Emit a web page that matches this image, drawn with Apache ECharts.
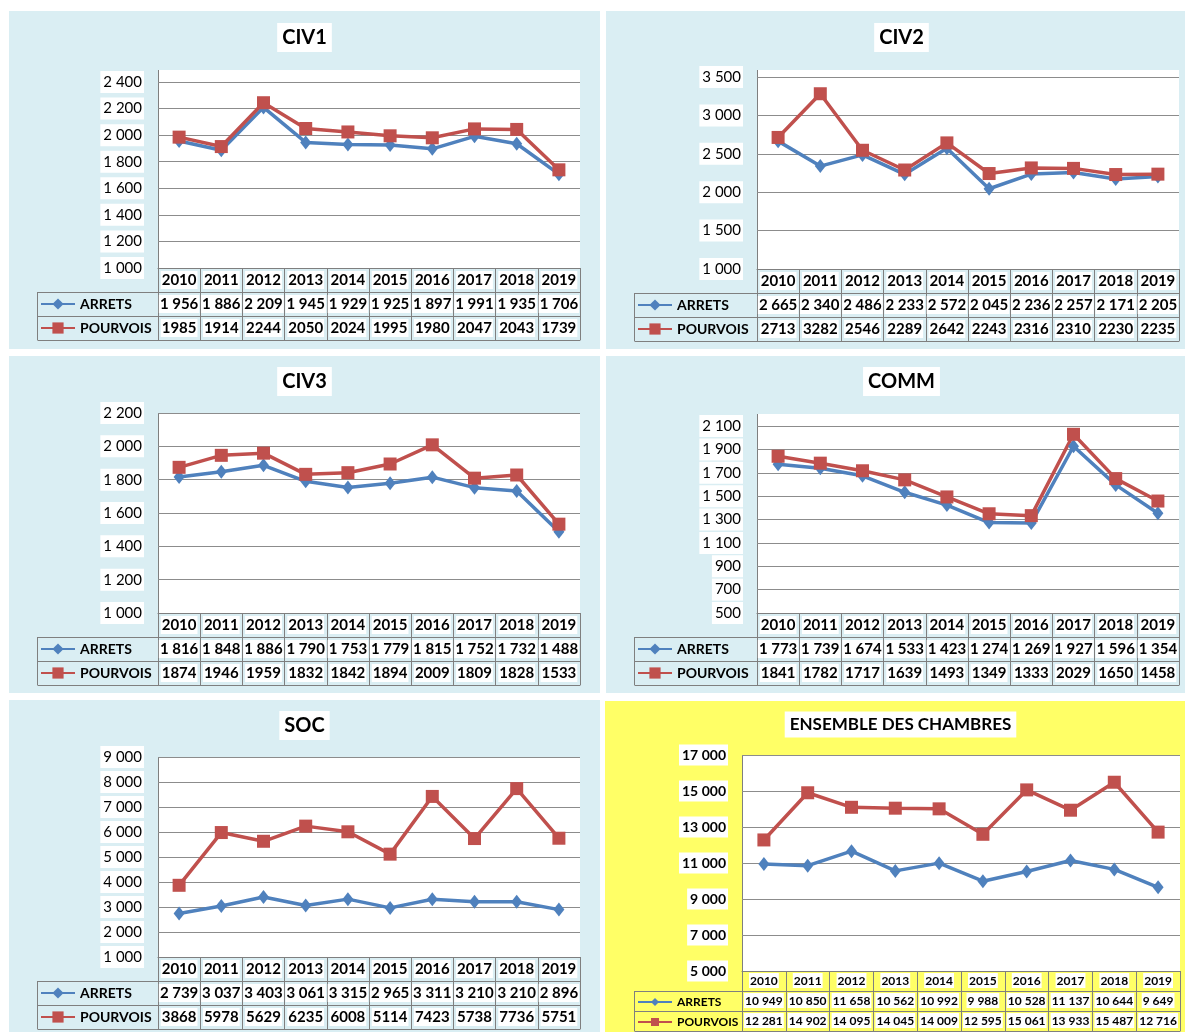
<!DOCTYPE html>
<html>
<head>
<meta charset="utf-8">
<script src="https://cdn.jsdelivr.net/npm/echarts@6/dist/echarts.min.js"></script>
<style>
body { margin:0; background:#fff; width:1185px; height:1032px; overflow:hidden; position:relative; }
.panel { position:absolute; width:591px; outline:2px solid #a5a5a5; outline-offset:-2px; }
</style>
</head>
<body>
<div id="civ1" class="panel" style="left:9px;top:11px;height:338px"></div>
<div id="civ2" class="panel" style="left:606px;top:11px;height:338px"></div>
<div id="civ3" class="panel" style="left:9px;top:356px;height:337px"></div>
<div id="comm" class="panel" style="left:606px;top:356px;height:337px"></div>
<div id="soc" class="panel" style="left:9px;top:700px;height:340px"></div>
<div id="ens" class="panel" style="left:605px;top:701px;height:340px"></div>
<script>
// years shared by every chamber
var years = ['2010','2011','2012','2013','2014','2015','2016','2017','2018','2019'];

var civ1Arrets   = [1956, 1886, 2209, 1945, 1929, 1925, 1897, 1991, 1935, 1706];
var civ1Pourvois = [1985, 1914, 2244, 2050, 2024, 1995, 1980, 2047, 2043, 1739];

var civ2Arrets   = [2665, 2340, 2486, 2233, 2572, 2045, 2236, 2257, 2171, 2205];
var civ2Pourvois = [2713, 3282, 2546, 2289, 2642, 2243, 2316, 2310, 2230, 2235];

var civ3Arrets   = [1816, 1848, 1886, 1790, 1753, 1779, 1815, 1752, 1732, 1488];
var civ3Pourvois = [1874, 1946, 1959, 1832, 1842, 1894, 2009, 1809, 1828, 1533];

var commArrets   = [1773, 1739, 1674, 1533, 1423, 1274, 1269, 1927, 1596, 1354];
var commPourvois = [1841, 1782, 1717, 1639, 1493, 1349, 1333, 2029, 1650, 1458];

var socArrets    = [2739, 3037, 3403, 3061, 3315, 2965, 3311, 3210, 3210, 2896];
var socPourvois  = [3868, 5978, 5629, 6235, 6008, 5114, 7423, 5738, 7736, 5751];

var ensArrets    = [10949, 10850, 11658, 10562, 10992, 9988, 10528, 11137, 10644, 9649];
var ensPourvois  = [12281, 14902, 14095, 14045, 14009, 12595, 15061, 13933, 15487, 12716];

var FONT = 'Lato';
var LINE_GRAY = '#7f7f7f';

function spaced(v) {
  return String(v).replace(/\B(?=(\d{3})+(?!\d))/g, ' ');
}

function drawPanel(id, c) {
  var chart = echarts.init(document.getElementById(id));
  var W = 591, H = c.height;
  var rowH = c.rowH;
  var plotRight = W - c.right;
  var baseY = H - c.bottom;          // y of the lowest gridline / top of the table
  var tFont = c.tableFont;

  var rows = [
    years,
    c.arrets.map(spaced),
    c.pourvois.map(c.spacePourvois ? spaced : String)
  ];

  function tableAxis(i) {
    var txt = rows[i];
    return {
      type: 'category', data: years, position: 'bottom', offset: i * rowH,
      boundaryGap: true,
      axisLine: { show: true, lineStyle: { color: LINE_GRAY, width: 1 } },
      axisTick: { show: !!txt, length: rowH, interval: 0, lineStyle: { color: LINE_GRAY, width: 1 } },
      axisLabel: {
        show: !!txt, interval: 0, hideOverlap: false,
        formatter: function (v, k) { return txt ? txt[k] : ''; },
        fontFamily: FONT, fontSize: tFont, fontWeight: 'bold', color: '#000',
        backgroundColor: '#fff', padding: [2, 1, 1, 1],
        margin: Math.round((rowH - tFont) / 2) - 2
      },
      splitLine: { show: false }
    };
  }

  var legH = c.legendItemH;
  function legendFor(name, r) {
    return {
      data: [name], orient: 'horizontal', selectedMode: false, padding: 0,
      left: c.legLeft + 3, top: baseY + r * rowH + (rowH - legH) / 2,
      itemWidth: 34, itemHeight: legH, itemGap: 0,
      textStyle: { fontFamily: FONT, fontSize: c.legendFont, fontWeight: 'bold', color: '#000' }
    };
  }

  var gx = c.left + 0.5, lx = c.legLeft + 0.5;
  chart.setOption({
    animation: false,
    backgroundColor: c.bg,
    title: {
      text: c.title, left: 'center', top: c.titleY - c.titleSize / 2 - 5,
      backgroundColor: '#fff', padding: [5, 5, 4, 5],
      textStyle: { fontFamily: FONT, fontSize: c.titleSize, fontWeight: 'bold', color: '#000' }
    },
    legend: [legendFor('ARRETS', 1), legendFor('POURVOIS', 2)],
    grid: { left: c.left, right: c.right, top: c.top, bottom: c.bottom, containLabel: false },
    xAxis: [tableAxis(0), tableAxis(1), tableAxis(2), tableAxis(3)],
    yAxis: {
      type: 'value', min: c.min, max: c.max, interval: c.step,
      axisLine: { show: false }, axisTick: { show: false },
      splitLine: { lineStyle: { color: '#8c8c8c', width: 1 } },
      axisLabel: {
        formatter: spaced, fontFamily: FONT, fontSize: c.yFont,
        fontWeight: c.yBold ? 'bold' : 'normal', color: '#000',
        backgroundColor: '#fff', padding: [4, 2, 3, 3], margin: 14
      }
    },
    graphic: [
      { type: 'rect', z: -10, silent: true,
        shape: { x: c.left, y: c.whiteTop, width: plotRight - c.left, height: baseY - c.whiteTop },
        style: { fill: '#fff' } },
      { type: 'line', silent: true, shape: { x1: gx, y1: c.whiteTop, x2: gx, y2: baseY },
        style: { stroke: LINE_GRAY, lineWidth: 1 } },
      { type: 'line', silent: true, shape: { x1: lx, y1: baseY + rowH + 0.5, x2: c.left, y2: baseY + rowH + 0.5 },
        style: { stroke: LINE_GRAY, lineWidth: 1 } },
      { type: 'line', silent: true, shape: { x1: lx, y1: baseY + 2 * rowH + 0.5, x2: c.left, y2: baseY + 2 * rowH + 0.5 },
        style: { stroke: LINE_GRAY, lineWidth: 1 } },
      { type: 'line', silent: true, shape: { x1: lx, y1: baseY + 3 * rowH + 0.5, x2: c.left, y2: baseY + 3 * rowH + 0.5 },
        style: { stroke: LINE_GRAY, lineWidth: 1 } },
      { type: 'line', silent: true, shape: { x1: lx, y1: baseY + rowH, x2: lx, y2: baseY + 3 * rowH },
        style: { stroke: LINE_GRAY, lineWidth: 1 } }
    ],
    series: [
      { name: 'ARRETS', type: 'line', data: c.arrets, symbol: 'diamond', symbolSize: c.diamond,
        lineStyle: { width: c.lineW, color: '#4F81BD' }, itemStyle: { color: '#4F81BD' } },
      { name: 'POURVOIS', type: 'line', data: c.pourvois, symbol: 'rect', symbolSize: c.square,
        lineStyle: { width: c.lineW, color: '#C0504D' }, itemStyle: { color: '#C0504D' } }
    ]
  });
}

var blue = '#DAEEF3';
var common = { rowH: 24, tableFont: 15, legendFont: 14, legendItemH: 14, titleSize: 20, yFont: 15, yBold: false,
               bg: blue, spacePourvois: false, legLeft: 28, lineW: 3.5, diamond: [11, 14], square: 13 };

function panel(extra) { return Object.assign({}, common, extra); }

drawPanel('civ1', panel({ title: 'CIV1', arrets: civ1Arrets, pourvois: civ1Pourvois,
  min: 1000, max: 2400, step: 200, height: 338, left: 149, right: 20, top: 71, bottom: 81,
  whiteTop: 59, titleY: 27 }));

drawPanel('civ2', panel({ title: 'CIV2', arrets: civ2Arrets, pourvois: civ2Pourvois,
  min: 1000, max: 3500, step: 500, height: 338, left: 151, right: 18, top: 66, bottom: 80,
  whiteTop: 59, titleY: 27 }));

drawPanel('civ3', panel({ title: 'CIV3', arrets: civ3Arrets, pourvois: civ3Pourvois,
  min: 1000, max: 2200, step: 200, height: 337, left: 149, right: 20, top: 57, bottom: 80,
  whiteTop: 57, titleY: 26 }));

drawPanel('comm', panel({ title: 'COMM', arrets: commArrets, pourvois: commPourvois,
  min: 500, max: 2100, step: 200, height: 337, left: 151, right: 18, top: 70, bottom: 80,
  whiteTop: 58, titleY: 26 }));

drawPanel('soc', panel({ title: 'SOC', arrets: socArrets, pourvois: socPourvois,
  min: 1000, max: 9000, step: 1000, height: 340, left: 149, right: 20, top: 57, bottom: 83,
  whiteTop: 57, titleY: 26 }));

drawPanel('ens', panel({ title: 'ENSEMBLE DES CHAMBRES', arrets: ensArrets, pourvois: ensPourvois,
  min: 5000, max: 17000, step: 2000, height: 340, left: 137, right: 16, top: 54, bottom: 70,
  whiteTop: 54, titleY: 24, rowH: 20, tableFont: 12, legendFont: 12, legendItemH: 10, titleSize: 17,
  yFont: 14, yBold: true, bg: '#FFFF66', spacePourvois: true, legLeft: 29, lineW: 3.5 }));
</script>
</body>
</html>
